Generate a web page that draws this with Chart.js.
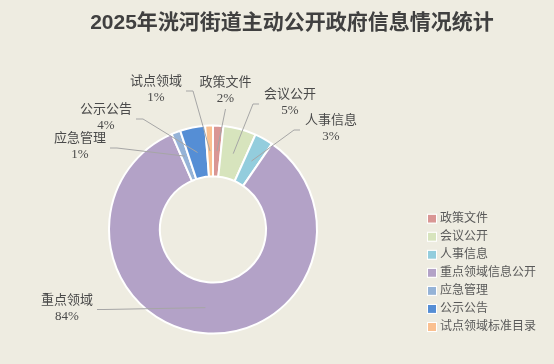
<!DOCTYPE html>
<html><head><meta charset="utf-8">
<script src="https://cdn.jsdelivr.net/npm/chart.js@4/dist/chart.umd.min.js"></script>
<style>html,body{margin:0;padding:0;background:#EEECE1;}#wrap{width:554px;height:364px;position:relative}</style>
</head><body><div id="wrap"><canvas id="c" width="554" height="364"></canvas></div>
<script>
const title = '2025年洸河街道主动公开政府信息情况统计';
const categories = ['政策文件','会议公开','人事信息','重点领域信息公开','应急管理','公示公告','试点领域标准目录'];
const shortLabels = ['政策文件','会议公开','人事信息','重点领域','应急管理','公示公告','试点领域'];
const values = [1.6, 5.1, 2.9, 83.9, 1.4, 3.9, 1.2];
const colors = ['#D99694','#D7E4BD','#93CDDD','#B3A2C7','#95B3D7','#558ED5','#FAC090'];

// label layout (text centre x, first line centre y, side where the leader line attaches)
const labelLayout = [
  {cx:225.5, cy:83,  side:'bottom'},
  {cx:290,   cy:95,  side:'left'},
  {cx:331,   cy:121, side:'left'},
  {cx:67,    cy:300.5, side:'right'},
  {cx:80,    cy:139, side:'right'},
  {cx:106,   cy:110, side:'right'},
  {cx:156,   cy:82,  side:'right'}
];

const BG = '#EEECE1';
const LABEL_FONT = '13px "Liberation Serif", "Noto Sans CJK SC", serif';
const LEGEND_FONT = '12px "Liberation Serif", "Noto Sans CJK SC", serif';

const decor = {
  id: 'decor',
  beforeDraw(chart) {
    const ctx = chart.ctx;
    ctx.save();
    ctx.fillStyle = BG;
    ctx.fillRect(0, 0, chart.width, chart.height);
    ctx.restore();
  },
  afterDraw(chart) {
    const ctx = chart.ctx;
    const total = values.reduce((a, b) => a + b, 0);
    const arcs = chart.getDatasetMeta(0).data;
    ctx.save();
    // title
    ctx.fillStyle = '#404040';
    ctx.font = 'bold 21px "Liberation Sans", "Noto Sans CJK SC", sans-serif';
    ctx.textAlign = 'center';
    ctx.textBaseline = 'middle';
    ctx.fillText(title, 292, 23);

    // data labels with leader lines
    ctx.font = LABEL_FONT;
    const lineGap = 16;
    arcs.forEach((arc, i) => {
      const p = arc.getProps(['x','y','startAngle','endAngle','innerRadius','outerRadius'], true);
      const mid = (p.startAngle + p.endAngle) / 2;
      const r = (p.innerRadius + p.outerRadius) / 2;
      const ax = p.x + Math.cos(mid) * r;
      const ay = p.y + Math.sin(mid) * r;
      const L = labelLayout[i];
      const name = shortLabels[i];
      const pct = Math.round(values[i] / total * 100) + '%';
      const w = ctx.measureText(name).width;
      const blockMid = L.cy + lineGap / 2 + 1;
      let pts;
      if (L.side === 'left') {
        const ex = L.cx - w / 2 - 5;
        pts = [[ax, ay], [ex - 6, blockMid], [ex, blockMid]];
      } else if (L.side === 'right') {
        const ex = L.cx + w / 2 + 4;
        pts = [[ax, ay], [ex + 7, blockMid], [ex, blockMid]];
      } else {
        pts = [[ax, ay], [L.cx, L.cy + lineGap + 10]];
      }
      ctx.strokeStyle = '#A6A6A6';
      ctx.lineWidth = 1;
      ctx.beginPath();
      ctx.moveTo(pts[0][0], pts[0][1]);
      for (let k = 1; k < pts.length; k++) ctx.lineTo(pts[k][0], pts[k][1]);
      ctx.stroke();
      ctx.fillStyle = '#4A4A4A';
      ctx.textAlign = 'center';
      ctx.textBaseline = 'middle';
      ctx.fillText(name, L.cx, L.cy);
      ctx.fillText(pct, L.cx, L.cy + lineGap);
    });

    // legend
    ctx.font = LEGEND_FONT;
    ctx.textAlign = 'left';
    ctx.textBaseline = 'middle';
    categories.forEach((c, i) => {
      const y = 218.7 + i * 18.05;
      ctx.fillStyle = colors[i];
      ctx.fillRect(428, y - 4, 8, 8);
      ctx.strokeStyle = '#FFFFFF';
      ctx.lineWidth = 1;
      ctx.strokeRect(427.5, y - 4.5, 9, 9);
      ctx.fillStyle = '#595959';
      ctx.fillText(c, 440, y);
    });
    ctx.restore();
  }
};

new Chart(document.getElementById('c'), {
  type: 'doughnut',
  data: {
    labels: categories,
    datasets: [{
      data: values,
      backgroundColor: colors,
      borderColor: '#FFFFFF',
      borderWidth: 2,
      hoverOffset: 0
    }]
  },
  options: {
    responsive: false,
    devicePixelRatio: 1,
    animation: false,
    cutout: '51%',
    layout: { padding: { top: 124.5, bottom: 29.5, left: 108, right: 236 } },
    plugins: { legend: { display: false }, title: { display: false }, tooltip: { enabled: false } }
  },
  plugins: [decor]
});
</script>
</body></html>
